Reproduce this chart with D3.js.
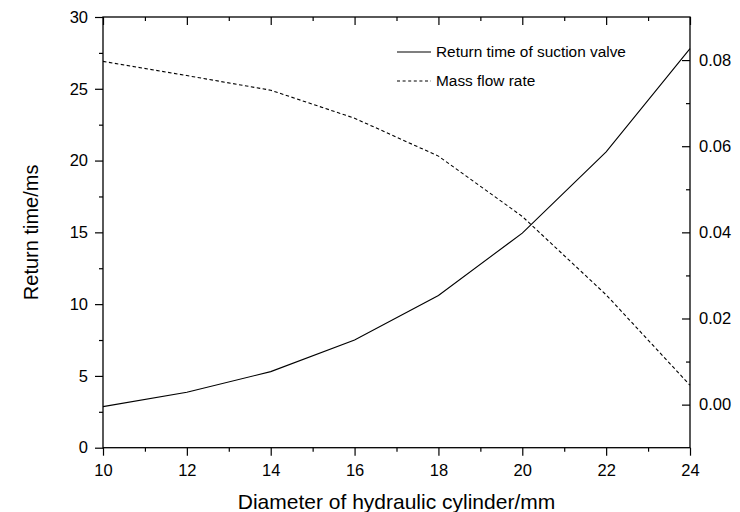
<!DOCTYPE html>
<html>
<head>
<meta charset="utf-8">
<script src="https://cdn.jsdelivr.net/npm/d3@7/dist/d3.min.js"></script>
<style>
  html, body { margin: 0; padding: 0; background: #fff; }
  svg { display: block; font-family: "Liberation Sans", Arial, sans-serif; }
</style>
</head>
<body>
<svg id="chart" width="740" height="512"></svg>
<script>
const diameters = [10, 12, 14, 16, 18, 20, 22, 24];
const returnTime = [2.86, 3.86, 5.3, 7.5, 10.6, 14.95, 20.6, 27.8];
const massFlow = [0.0797, 0.0764, 0.0730, 0.0665, 0.0577, 0.0437, 0.0255, 0.0045];
const xMajorTicks = [10, 12, 14, 16, 18, 20, 22, 24];
const xMinorTicks = [11, 13, 15, 17, 19, 21, 23];
const yLeftMajor = [0, 5, 10, 15, 20, 25, 30];
const yLeftMinor = [2.5, 7.5, 12.5, 17.5, 22.5, 27.5];
const yRightMajor = [0, 0.02, 0.04, 0.06, 0.08];
const yRightMinor = [0.01, 0.03, 0.05, 0.07];
const seriesNames = ["Return time of suction valve", "Mass flow rate"];
const xTitle = "Diameter of hydraulic cylinder/mm";
const yTitle = "Return time/ms";

const W = 740, H = 512;
const m = {left: 103, right: 50, top: 17, bottom: 64.3};
const iw = W - m.left - m.right, ih = H - m.top - m.bottom;

const svg = d3.select("#chart");
const g = svg.append("g").attr("transform", `translate(${m.left},${m.top})`);

const x = d3.scaleLinear().domain([10, 24]).range([0, iw]);
const yL = d3.scaleLinear().domain([0, 30]).range([ih, 0]);
const yR = d3.scaleLinear().domain([-0.01, 0.09]).range([ih, 0]);

function styleAxis(sel, fs) {
  sel.select(".domain").remove();
  sel.selectAll("line").attr("stroke", "#000").attr("stroke-width", 1.2);
  sel.selectAll("text").attr("font-size", fs).attr("fill", "#000")
     .attr("font-family", "'Liberation Sans', Arial, sans-serif");
}

const TF = 16.5;
// bottom
g.append("g").attr("transform", `translate(0,${ih})`)
  .call(d3.axisBottom(x).tickValues(xMajorTicks).tickSize(8).tickSizeOuter(0).tickPadding(9).tickFormat(d3.format("d")))
  .call(s => styleAxis(s, TF));
g.append("g").attr("transform", `translate(0,${ih})`)
  .call(d3.axisBottom(x).tickValues(xMinorTicks).tickSize(4).tickSizeOuter(0).tickFormat(""))
  .call(s => styleAxis(s, TF));
// top (inward)
g.append("g")
  .call(d3.axisTop(x).tickValues(xMajorTicks).tickSize(-8).tickSizeOuter(0).tickFormat(""))
  .call(s => styleAxis(s, TF));
g.append("g")
  .call(d3.axisTop(x).tickValues(xMinorTicks).tickSize(-4).tickSizeOuter(0).tickFormat(""))
  .call(s => styleAxis(s, TF));
// left
g.append("g")
  .call(d3.axisLeft(yL).tickValues(yLeftMajor).tickSize(8).tickSizeOuter(0).tickPadding(7).tickFormat(d3.format("d")))
  .call(s => styleAxis(s, TF));
g.append("g")
  .call(d3.axisLeft(yL).tickValues(yLeftMinor).tickSize(4).tickSizeOuter(0).tickFormat(""))
  .call(s => styleAxis(s, TF));
// right (inward ticks, labels outside)
g.append("g").attr("transform", `translate(${iw},0)`)
  .call(d3.axisRight(yR).tickValues(yRightMajor).tickSize(-8).tickSizeOuter(0).tickPadding(9).tickFormat(d3.format(".2f")))
  .call(s => styleAxis(s, TF));
g.append("g").attr("transform", `translate(${iw},0)`)
  .call(d3.axisRight(yR).tickValues(yRightMinor).tickSize(-4).tickSizeOuter(0).tickFormat(""))
  .call(s => styleAxis(s, TF));

// frame
g.append("rect").attr("x", 0).attr("y", 0).attr("width", iw).attr("height", ih)
  .attr("fill", "none").attr("stroke", "#000").attr("stroke-width", 1.3);

// lines
const lineL = d3.line().x((d, i) => x(diameters[i])).y(d => yL(d));
const lineR = d3.line().x((d, i) => x(diameters[i])).y(d => yR(d));
g.append("path").datum(returnTime).attr("d", lineL)
  .attr("fill", "none").attr("stroke", "#000").attr("stroke-width", 1.1);
g.append("path").datum(massFlow).attr("d", lineR)
  .attr("fill", "none").attr("stroke", "#000").attr("stroke-width", 1.1)
  .attr("stroke-dasharray", "3.5,2.5");

// legend
const leg = svg.append("g");
const legY = [52, 81];
const dashes = [null, "3,2.6"];
seriesNames.forEach((name, i) => {
  leg.append("line").attr("x1", 397).attr("x2", 431).attr("y1", legY[i]).attr("y2", legY[i])
    .attr("stroke", "#000").attr("stroke-width", 1.1)
    .attr("stroke-dasharray", dashes[i]);
  leg.append("text").attr("x", 436).attr("y", legY[i]).attr("dy", "0.35em")
    .attr("font-size", 15.4).attr("fill", "#000").text(name);
});

// titles
svg.append("text").attr("x", m.left + iw / 2).attr("y", 509)
  .attr("text-anchor", "middle").attr("font-size", 21).attr("fill", "#000").text(xTitle);
svg.append("text").attr("transform", `translate(38,${m.top + ih / 2}) rotate(-90)`)
  .attr("text-anchor", "middle").attr("font-size", 20).attr("fill", "#000").text(yTitle);
</script>
</body>
</html>
